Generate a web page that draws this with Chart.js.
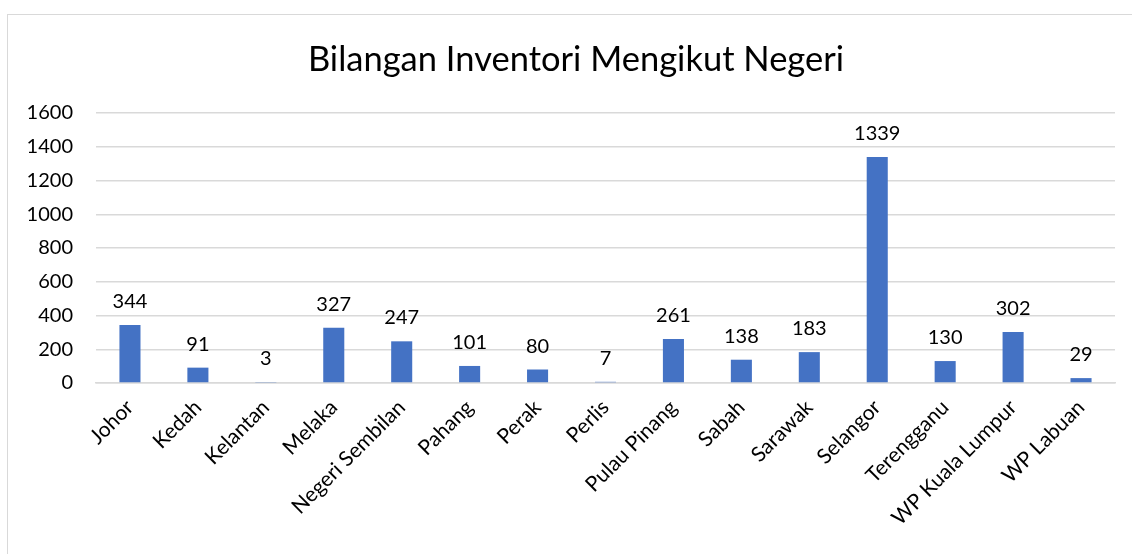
<!DOCTYPE html>
<html>
<head>
<meta charset="utf-8">
<script src="https://cdn.jsdelivr.net/npm/chart.js@4/dist/chart.umd.min.js"></script>
<style>
  html, body { margin: 0; padding: 0; background: #fff; overflow: hidden; }
  #frame { position: absolute; left: 7px; top: 14px; width: 1200px; height: 600px; border: 1px solid #d9d9d9; }
  #wrap { position: absolute; left: 0; top: 0; width: 1132px; height: 554px; }
</style>
</head>
<body>
<div id="frame"></div>
<div id="wrap"><canvas id="Chart"></canvas></div>
<script>
var negeri = ['Johor', 'Kedah', 'Kelantan', 'Melaka', 'Negeri Sembilan', 'Pahang', 'Perak', 'Perlis',
  'Pulau Pinang', 'Sabah', 'Sarawak', 'Selangor', 'Terengganu', 'WP Kuala Lumpur', 'WP Labuan'];
var bilangan = [344, 91, 3, 327, 247, 101, 80, 7, 261, 138, 183, 1339, 130, 302, 29];
var tajuk = 'Bilangan Inventori Mengikut Negeri';

var fontName = 'Lato';

/* label nilai atas setiap bar */
var labelNilai = {
  id: 'labelNilai',
  afterDatasetsDraw: function(chart){
    var c = chart.ctx;
    var meta = chart.getDatasetMeta(0);
    c.save();
    c.font = '20px ' + fontName;
    c.fillStyle = '#000';
    c.textAlign = 'center';
    c.textBaseline = 'alphabetic';
    meta.data.forEach(function(bar, i){
      c.fillText(String(bilangan[i]), bar.x, bar.y - 17);
    });
    c.restore();
  }
};

/* tajuk di tengah bingkai (bukan di tengah kawasan paksi) */
var tajukCarta = {
  id: 'tajukCarta',
  afterDraw: function(chart){
    var c = chart.ctx;
    c.save();
    c.font = '34.5px ' + fontName;
    c.fillStyle = '#000';
    c.textAlign = 'center';
    c.textBaseline = 'alphabetic';
    c.fillText(tajuk, 576, 71);
    c.restore();
  }
};

var ctx = document.getElementById('Chart');
var chart = new Chart(ctx, {
  type: 'bar',
  data: {
    labels: negeri,
    datasets: [{
      data: bilangan,
      backgroundColor: '#4472C4',
      barPercentage: 0.31,
      categoryPercentage: 1
    }]
  },
  options: {
    responsive: true,
    maintainAspectRatio: false,
    animation: false,
    layout: { padding: { left: 0, right: 17, top: 113, bottom: 0 } },
    plugins: {
      legend: { display: false },
      tooltip: { enabled: false },
      title: { display: false }
    },
    scales: {
      x: {
        grid: { display: false, drawTicks: false },
        border: { color: '#d9d9d9', width: 1.5 },
        ticks: {
          color: '#000',
          font: { family: fontName, size: 21 },
          maxRotation: 45, minRotation: 45,
          autoSkip: false,
          padding: 12
        },
        afterFit: function(scale){ scale.height = 171; }
      },
      y: {
        min: 0, max: 1600,
        grid: { color: '#d9d9d9', lineWidth: 1.5, drawTicks: false },
        border: { display: false },
        ticks: {
          stepSize: 200,
          color: '#000',
          font: { family: fontName, size: 20 },
          padding: 23,
          callback: function(v){ return String(v); }
        },
        afterFit: function(scale){ scale.width = 96; }
      }
    }
  },
  plugins: [labelNilai, tajukCarta]
});
</script>
</body>
</html>
